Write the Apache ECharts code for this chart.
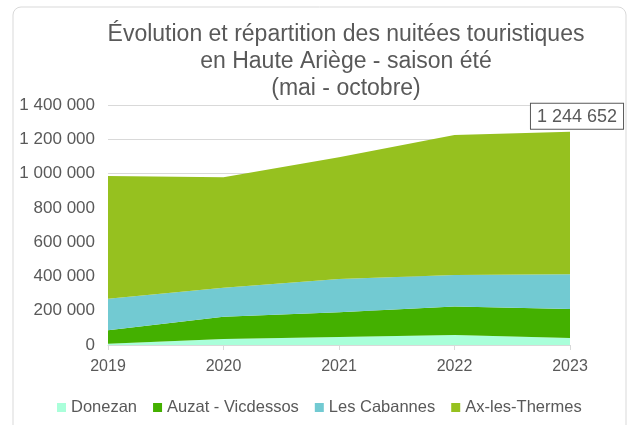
<!DOCTYPE html>
<html>
<head>
<meta charset="utf-8">
<script src="https://cdn.jsdelivr.net/npm/echarts@6/dist/echarts.min.js"></script>
<style>
  html, body { margin: 0; padding: 0; background: #fff; }
  #chart { width: 632px; height: 425px; }
</style>
</head>
<body>
<div id="chart"></div>
<script>
// Nuitées touristiques, saison été (mai - octobre), par territoire
const years = ['2019', '2020', '2021', '2022', '2023'];
const donezan = [8000, 35000, 47000, 58000, 41000];
const auzatVicdessos = [78000, 130000, 144000, 166000, 169000];
const lesCabannes = [184000, 169000, 194000, 184000, 202000];
const axLesThermes = [716000, 644000, 710000, 817000, 832652];
const seriesNames = ['Donezan', 'Auzat - Vicdessos', 'Les Cabannes', 'Ax-les-Thermes'];
const yTicks = [0, 200000, 400000, 600000, 800000, 1000000, 1200000, 1400000];

const colors = ['#AAFFDA', '#44B000', '#72CAD2', '#96C11F'];
const textColor = '#595959';
const font = '"Liberation Sans", Arial, sans-serif';

const fmt = v => String(Math.round(v)).replace(/\B(?=(\d{3})+(?!\d))/g, ' ');
const totals = years.map((_, i) => donezan[i] + auzatVicdessos[i] + lesCabannes[i] + axLesThermes[i]);
const lastIdx = years.length - 1;

const values = [donezan, auzatVicdessos, lesCabannes, axLesThermes];

const series = values.map((arr, s) => ({
  name: seriesNames[s],
  type: 'line',
  stack: 'total',
  symbol: 'circle',
  symbolSize: 0,
  showSymbol: true,
  lineStyle: { width: 0 },
  areaStyle: { color: colors[s], opacity: 1 },
  itemStyle: { color: colors[s] },
  data: arr.map((v, i) => {
    if (s === values.length - 1 && i === lastIdx) {
      // total of the last season, written above the stack
      return {
        value: v,
        label: {
          show: true,
          position: 'top',
          distance: 3,
          offset: [7, 0],
          formatter: () => fmt(totals[lastIdx]),
          fontFamily: font,
          fontSize: 18,
          color: textColor,
          borderColor: textColor,
          borderWidth: 1,
          padding: [4, 6, 3, 6],
          backgroundColor: '#fff'
        }
      };
    }
    return v;
  })
}));

const chart = echarts.init(document.getElementById('chart'), null, { renderer: 'canvas' });
chart.setOption({
  animation: false,
  backgroundColor: '#fff',
  textStyle: { fontFamily: font },
  title: {
    text: 'Évolution et répartition des nuitées touristiques\nen Haute Ariège - saison été\n(mai - octobre)',
    left: 341,
    textAlign: 'center',
    top: 16,
    textStyle: { fontFamily: font, fontSize: 23, fontWeight: 'normal', color: textColor, lineHeight: 27 }
  },
  graphic: [{
    type: 'rect',
    shape: { x: 13, y: 7, width: 613, height: 430, r: 8 },
    style: { fill: 'none', stroke: '#d9d9d9', lineWidth: 1 },
    silent: true,
    z: -10
  }],
  legend: {
    data: seriesNames,
    top: 394,
    left: 52,
    icon: 'rect',
    itemWidth: 9,
    itemHeight: 9,
    itemGap: 16,
    textStyle: { fontFamily: font, fontSize: 16.5, color: textColor }
  },
  grid: { left: 108, right: 62, top: 105, bottom: 80, containLabel: false },
  xAxis: {
    type: 'category',
    boundaryGap: false,
    data: years,
    axisLine: { lineStyle: { color: '#d9d9d9', width: 1 } },
    axisTick: { show: true, length: 5, lineStyle: { color: '#d9d9d9' } },
    axisLabel: { fontFamily: font, fontSize: 16, color: textColor, margin: 14 }
  },
  yAxis: {
    type: 'value',
    min: yTicks[0],
    max: yTicks[yTicks.length - 1],
    interval: yTicks[1] - yTicks[0],
    axisLine: { show: false },
    axisTick: { show: false },
    splitLine: { lineStyle: { color: '#d9d9d9', width: 1 } },
    axisLabel: { fontFamily: font, fontSize: 17, color: textColor, margin: 13, formatter: v => fmt(v) }
  },
  series: series
});
</script>
</body>
</html>
